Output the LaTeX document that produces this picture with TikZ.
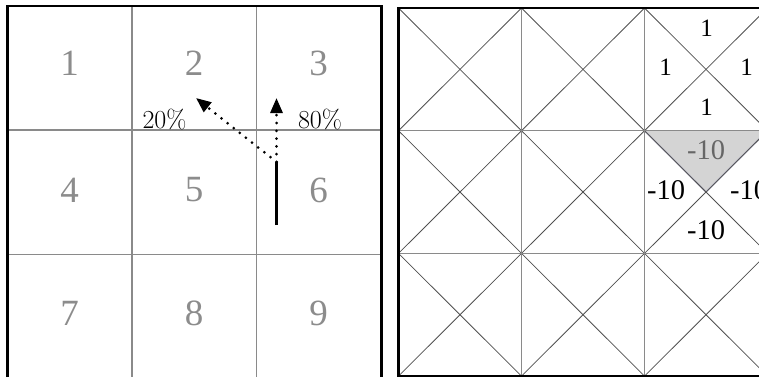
\documentclass[tikz,border=0pt]{standalone}
\usepackage{fontspec}
\newfontfamily\tnr{Liberation Serif}
\usetikzlibrary{arrows.meta}
\definecolor{gridgray}{HTML}{8A8A8A}
\definecolor{diaggray}{HTML}{505050}
\definecolor{numgray}{HTML}{8C8C8C}
\definecolor{shadegray}{HTML}{D4D4D4}
\definecolor{shadeedge}{HTML}{B4B4C4}
\tikzset{
  gridline/.style={draw=gridgray, line width=1.4pt},
  diagline/.style={draw=diaggray, line width=0.8pt},
  border/.style={draw=black, line width=2.6pt},
  bignum/.style={text=numgray, font=\tnr\fontsize{37}{40}\selectfont, inner sep=0pt},
  smallnum/.style={text=black, font=\tnr\fontsize{25}{28}\selectfont, inner sep=0pt},
  negnum/.style={text=black, font=\tnr\fontsize{28.5}{31}\selectfont, inner sep=0pt},
  pct/.style={text=black, font=\fontsize{26}{28}\selectfont, inner sep=0pt, anchor=base},
  movearrow/.style={line width=3pt, dash pattern=on 0pt off 7.8pt, line cap=round, -{Triangle[length=15pt,width=12pt,line cap=butt]}},
}
\begin{document}
\begin{tikzpicture}[x=1pt,y=-1pt]
\useasboundingbox (0,0) rectangle (759,377);
% ---------- left panel ----------
\foreach \x in {132,256.5} \draw[gridline] (\x,6) -- (\x,377);
\foreach \y in {130,254.5} \draw[gridline] (7.5,\y) -- (381.5,\y);
\draw[border] (7.5,377) -- (7.5,6) -- (381.5,6) -- (381.5,377);
\node[bignum] (n1) at (69.5,63) {1};
\node[bignum] (n2) at (194,63) {2};
\node[bignum] (n3) at (318.5,63) {3};
\node[bignum] (n4) at (69.5,190) {4};
\node[bignum] (n5) at (194,190) {5};
\node[bignum] (n6) at (318.5,190) {6};
\node[bignum] (n7) at (69.5,313) {7};
\node[bignum] (n8) at (194,313) {8};
\node[bignum] (n9) at (318.5,313) {9};
\node[pct] (p20) at (164.5,128.3) {20\%};
\node[pct] (p80) at (320,128.3) {80\%};
\coordinate (start) at (276.5,225);
\coordinate (turn) at (276.5,162);
\coordinate (up) at (276.5,98);
\coordinate (left) at (196,98);
\draw[line width=3pt] (start) -- (turn);
\draw[movearrow] (turn) -- (up);
\draw[movearrow] (turn) -- (left);
% ---------- right panel ----------
\fill[shadegray] (644.5,130.7) -- (767.5,130.7) -- (706,192) -- cycle;
\draw[shadeedge, line width=1.6pt] (644.5,130.7) -- (706,192) -- (767.5,130.7);
\foreach \i in {0,1,2}{
  \foreach \j in {0,1,2}{
    \draw[diagline] ({398.5+123*\i},{8+122.7*\j}) -- ({398.5+123*(\i+1)},{8+122.7*(\j+1)});
    \draw[diagline] ({398.5+123*(\i+1)},{8+122.7*\j}) -- ({398.5+123*\i},{8+122.7*(\j+1)});
  }
}
\foreach \x in {521.5,644.5} \draw[gridline] (\x,8) -- (\x,376);
\foreach \y in {130.7,253.4} \draw[gridline] (398.5,\y) -- (767.5,\y);
\draw[border] (767.5,8) -- (398.5,8) -- (398.5,376) -- (767.5,376);
\node[smallnum] (t1) at (706.5,28.5) {1};
\node[smallnum] (l1) at (665.5,67) {1};
\node[smallnum] (r1) at (746.5,67) {1};
\node[smallnum] (b1) at (706.5,107) {1};
\node[negnum, text=black!60] (t10) at (706,150) {-10};
\node[negnum] (l10) at (666,190) {-10};
\node[negnum] (r10) at (749,190) {-10};
\node[negnum] (b10) at (706,230) {-10};
\end{tikzpicture}
\end{document}
